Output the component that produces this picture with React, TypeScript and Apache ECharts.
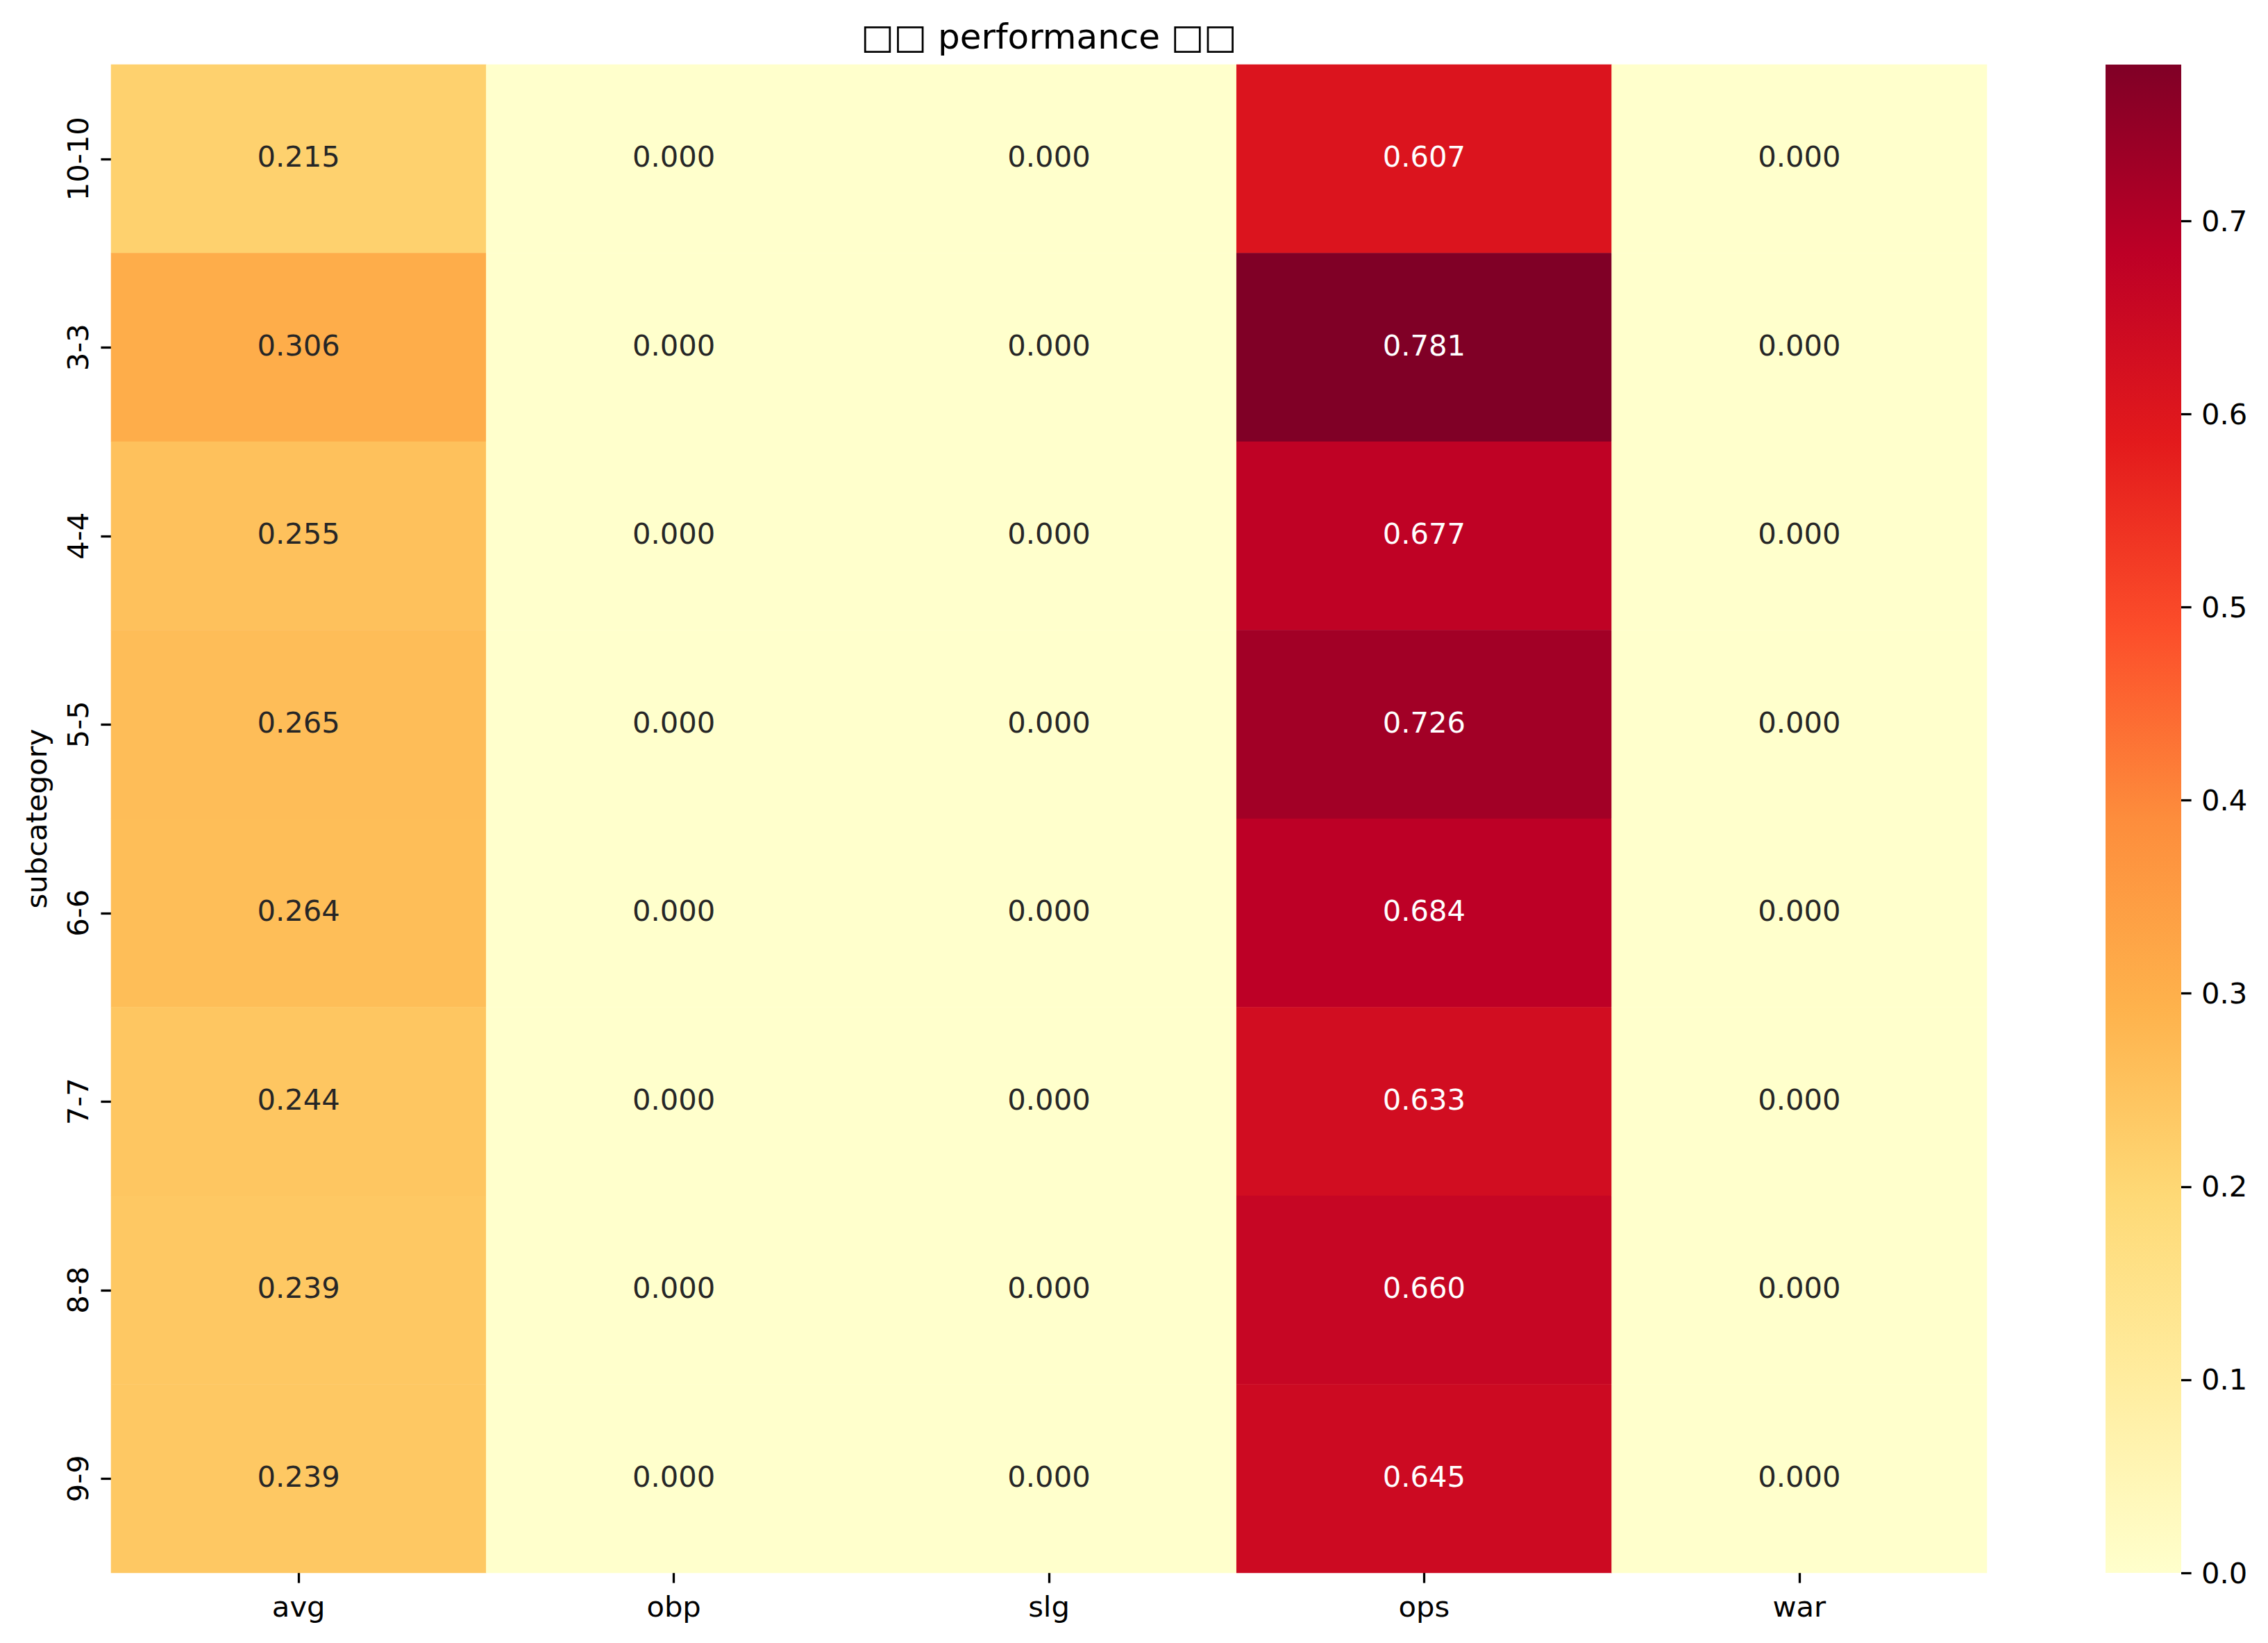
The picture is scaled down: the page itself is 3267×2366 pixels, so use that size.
import React, { useEffect, useRef } from "react";
import * as echarts from "echarts";

const titleText = "□□ performance □□";
const metrics = ["avg", "obp", "slg", "ops", "war"];
const subcategories = ["10-10", "3-3", "4-4", "5-5", "6-6", "7-7", "8-8", "9-9"];
const avgValues = [0.215, 0.306, 0.255, 0.265, 0.264, 0.244, 0.239, 0.239];
const obpValues = [0, 0, 0, 0, 0, 0, 0, 0];
const slgValues = [0, 0, 0, 0, 0, 0, 0, 0];
const opsValues = [0.607, 0.781, 0.677, 0.726, 0.684, 0.633, 0.66, 0.645];
const warValues = [0, 0, 0, 0, 0, 0, 0, 0];
const colorbarTicks = [0.0, 0.1, 0.2, 0.3, 0.4, 0.5, 0.6, 0.7];
const ylOrRd = ["#ffffcc", "#ffeda0", "#fed976", "#feb24c", "#fd8d3c", "#fc4e2a", "#e31a1c", "#bd0026", "#800026"];

const FONT = "DejaVu Sans";
const FS = 41.7;

export default function App() {
  const ref = useRef<HTMLDivElement>(null);
  useEffect(() => {
    document.body.style.margin = "0";
    if (!ref.current) return;
    const chart = echarts.init(ref.current, undefined, { renderer: "svg" });
    const columns = [avgValues, obpValues, slgValues, opsValues, warValues];
    let vmax = 0;
    let vmin = Infinity;
    columns.forEach((c) => c.forEach((v) => { vmax = Math.max(vmax, v); vmin = Math.min(vmin, v); }));
    const data: any[] = [];
    columns.forEach((col, xi) => {
      col.forEach((v, yi) => {
        const frac = (v - vmin) / (vmax - vmin);
        data.push({
          value: [xi, yi, v],
          label: { color: frac > 0.55 ? "#ffffff" : "#262626" },
        });
      });
    });
    const gradient = new echarts.graphic.LinearGradient(
      0, 1, 0, 0,
      ylOrRd.map((c, i) => ({ offset: i / (ylOrRd.length - 1), color: c }))
    );
    const tickStyle = { show: true, length: 14.6, lineStyle: { color: "#000", width: 3.3 } };
    chart.setOption({
      animation: false,
      backgroundColor: "#ffffff",
      textStyle: { fontFamily: FONT },
      title: {
        text: titleText,
        left: 1511,
        top: 28,
        textAlign: "center",
        padding: 0,
        textStyle: { fontFamily: FONT, fontSize: 50, fontWeight: "normal", color: "#000", lineHeight: 50 },
      },
      grid: [
        { left: 160, top: 93, width: 2702, height: 2172, containLabel: false },
        {
          left: 3033, top: 93, width: 109, height: 2172, show: true,
          backgroundColor: gradient, borderWidth: 0,
        },
      ],
      xAxis: [
        {
          type: "category", gridIndex: 0, data: metrics, position: "bottom",
          axisLine: { show: false },
          axisTick: { ...tickStyle, alignWithLabel: true },
          axisLabel: { fontFamily: FONT, fontSize: FS, color: "#000", margin: 27 },
          splitLine: { show: false },
        },
        { type: "category", gridIndex: 1, show: false, data: ["bar"] },
      ],
      yAxis: [
        {
          type: "category", gridIndex: 0, data: subcategories, inverse: true,
          axisLine: { show: false },
          axisTick: { ...tickStyle, alignWithLabel: true },
          axisLabel: { fontFamily: FONT, fontSize: FS, color: "#000", margin: 27, rotate: 90 },
          name: "subcategory", nameLocation: "middle", nameGap: 87,
          nameTextStyle: { fontFamily: FONT, fontSize: FS, color: "#000" },
          splitLine: { show: false },
        },
        {
          type: "value", gridIndex: 1, position: "right", min: 0, max: vmax,
          axisLine: { show: false, onZero: false },
          axisTick: { ...tickStyle, inside: false, customValues: colorbarTicks },
          axisLabel: {
            fontFamily: FONT, fontSize: FS, color: "#000", margin: 29,
            customValues: colorbarTicks,
            formatter: (v: number) => v.toFixed(1),
          },
          splitLine: { show: false },
        },
      ],
      visualMap: {
        type: "continuous", show: false, min: vmin, max: vmax, seriesIndex: 0, dimension: 2,
        inRange: { color: ylOrRd },
      },
      series: [
        {
          type: "heatmap", xAxisIndex: 0, yAxisIndex: 0, data,
          label: {
            show: true, fontFamily: FONT, fontSize: FS, offset: [0, -3],
            formatter: (p: any) => p.value[2].toFixed(3),
          },
          emphasis: { disabled: true },
          itemStyle: { borderWidth: 0 },
        },
      ],
    });
    return () => chart.dispose();
  }, []);
  return <div ref={ref} style={{ width: 3267, height: 2366 }} />;
}
